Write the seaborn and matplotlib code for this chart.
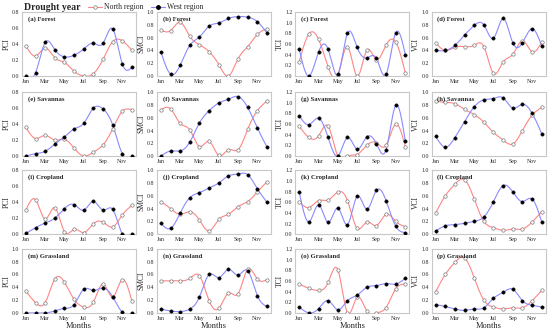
import numpy as np
import pandas as pd
import matplotlib
matplotlib.use("Agg")
import matplotlib.pyplot as plt
import seaborn as sns
from matplotlib.lines import Line2D

sns.set_theme(style="white")
plt.rcParams['font.family'] = ['Liberation Serif', 'DejaVu Serif']

months = list(range(1, 13))
tick_pos = [1, 3, 5, 7, 9, 11]
tick_labels = ["Jan", "Mar", "May", "Jul", "Sep", "Nov"]

panel_titles = ["(a) Forest", "(b) Forest", "(c) Forest", "(d) Forest",
                "(e) Savannas", "(f) Savannas", "(g) Savannas", "(h) Savannas",
                "(i) Cropland", "(j) Cropland", "(k) Cropland", "(l) Cropland",
                "(m) Grassland", "(n) Grassland", "(o) Grassland", "(p) Grassland"]
ylabels = ["PCI", "SMCI", "TCI", "VCI"]

north_a = [0.38, 0.25, 0.35, 0.23, 0.17, 0.06, 0.00, 0.03, 0.21, 0.43, 0.44, 0.32]
west_a = [0.00, 0.04, 0.42, 0.33, 0.24, 0.26, 0.34, 0.41, 0.41, 0.59, 0.15, 0.11]
north_b = [0.72, 0.71, 0.84, 0.62, 0.49, 0.38, 0.18, 0.00, 0.27, 0.46, 0.65, 0.74]
west_b = [0.38, 0.03, 0.17, 0.48, 0.61, 0.78, 0.83, 0.90, 0.93, 0.92, 0.85, 0.67]
north_c = [0.27, 0.79, 0.69, 0.17, 0.02, 0.55, 0.00, 0.48, 0.31, 0.58, 0.64, 0.06]
west_c = [0.50, 0.00, 0.45, 0.50, 0.03, 0.80, 0.54, 0.34, 0.33, 0.03, 0.81, 0.40]
north_d = [0.52, 0.40, 0.45, 0.46, 0.48, 0.46, 0.04, 0.22, 0.34, 0.55, 0.38, 0.53]
west_d = [0.40, 0.40, 0.48, 0.64, 0.79, 0.80, 0.59, 0.90, 0.52, 0.52, 0.74, 0.47]

north_e = [0.36, 0.22, 0.26, 0.20, 0.21, 0.10, 0.00, 0.05, 0.14, 0.34, 0.56, 0.58]
west_e = [0.00, 0.03, 0.06, 0.15, 0.24, 0.34, 0.41, 0.60, 0.59, 0.39, 0.03, 0.00]
north_f = [0.72, 0.74, 0.51, 0.41, 0.15, 0.23, 0.01, 0.10, 0.10, 0.42, 0.71, 0.86]
west_f = [0.00, 0.08, 0.08, 0.22, 0.52, 0.71, 0.83, 0.89, 0.93, 0.76, 0.44, 0.14]
north_g = [0.56, 0.35, 0.38, 0.56, 0.00, 0.00, 0.03, 0.20, 0.25, 0.20, 0.60, 0.18]
west_g = [0.76, 0.59, 0.71, 0.35, 0.00, 0.35, 0.13, 0.36, 0.23, 0.12, 0.95, 0.28]
north_h = [0.86, 0.84, 0.82, 0.73, 0.65, 0.53, 0.37, 0.25, 0.19, 0.40, 0.64, 0.76]
west_h = [0.31, 0.14, 0.29, 0.54, 0.77, 0.88, 0.90, 0.91, 0.75, 0.81, 0.67, 0.35]

north_i = [0.30, 0.43, 0.19, 0.33, 0.03, 0.06, 0.02, 0.13, 0.15, 0.09, 0.24, 0.36]
west_i = [0.01, 0.08, 0.14, 0.20, 0.32, 0.37, 0.30, 0.41, 0.30, 0.31, 0.00, 0.00]
north_j = [0.51, 0.40, 0.31, 0.35, 0.22, 0.05, 0.23, 0.31, 0.43, 0.51, 0.66, 0.82]
west_j = [0.17, 0.09, 0.33, 0.57, 0.65, 0.72, 0.80, 0.91, 0.94, 0.93, 0.71, 0.50]
north_k = [0.61, 0.50, 0.63, 0.64, 0.79, 0.63, 0.11, 0.23, 0.16, 0.37, 0.24, 0.14]
west_k = [0.79, 0.23, 0.55, 0.22, 0.49, 0.18, 0.71, 0.47, 0.82, 0.63, 0.15, 0.03]
north_l = [0.33, 0.60, 0.78, 0.85, 0.55, 0.20, 0.10, 0.06, 0.08, 0.08, 0.19, 0.35]
west_l = [0.05, 0.13, 0.15, 0.17, 0.20, 0.27, 0.51, 0.76, 0.66, 0.51, 0.55, 0.19]

north_m = [0.34, 0.16, 0.16, 0.53, 0.48, 0.21, 0.09, 0.17, 0.45, 0.25, 0.52, 0.18]
west_m = [0.00, 0.00, 0.00, 0.03, 0.07, 0.13, 0.37, 0.35, 0.39, 0.25, 0.01, 0.00]
north_n = [0.50, 0.50, 0.50, 0.54, 0.58, 0.19, 0.07, 0.31, 0.30, 0.68, 0.53, 0.52]
west_n = [0.06, 0.03, 0.02, 0.06, 0.25, 0.60, 0.55, 0.68, 0.59, 0.66, 0.27, 0.10]
north_o = [0.54, 0.46, 0.42, 0.57, 0.81, 0.00, 0.29, 0.04, 0.00, 0.10, 0.45, 0.54]
west_o = [0.11, 0.00, 0.08, 0.23, 0.06, 0.23, 0.33, 0.48, 0.51, 0.55, 0.54, 0.65]
north_p = [0.33, 0.60, 0.79, 0.86, 0.55, 0.20, 0.09, 0.06, 0.08, 0.08, 0.19, 0.35]
west_p = [0.13, 0.10, 0.06, 0.04, 0.06, 0.08, 0.23, 0.32, 0.37, 0.19, 0.12, 0.09]

north_all = [north_a, north_b, north_c, north_d, north_e, north_f, north_g, north_h,
             north_i, north_j, north_k, north_l, north_m, north_n, north_o, north_p]
west_all = [west_a, west_b, west_c, west_d, west_e, west_f, west_g, west_h,
            west_i, west_j, west_k, west_l, west_m, west_n, west_o, west_p]

ymax_all = [0.8, 1.0, 1.2, 1.0,
            0.8, 1.0, 1.2, 1.0,
            0.8, 1.0, 1.2, 1.0,
            1.0, 1.0, 1.2, 1.0]


def natural_spline(x, y, n=200):
    x = np.asarray(x, float)
    y = np.asarray(y, float)
    k = len(x)
    h = np.diff(x)
    A = np.zeros((k, k))
    b = np.zeros(k)
    A[0, 0] = 1
    A[-1, -1] = 1
    for i in range(1, k - 1):
        A[i, i - 1] = h[i - 1]
        A[i, i] = 2 * (h[i - 1] + h[i])
        A[i, i + 1] = h[i]
        b[i] = 3 * ((y[i + 1] - y[i]) / h[i] - (y[i] - y[i - 1]) / h[i - 1])
    c = np.linalg.solve(A, b)
    bb = np.zeros(k - 1)
    d = np.zeros(k - 1)
    for i in range(k - 1):
        bb[i] = (y[i + 1] - y[i]) / h[i] - h[i] * (2 * c[i] + c[i + 1]) / 3
        d[i] = (c[i + 1] - c[i]) / (3 * h[i])
    xs = np.linspace(x[0], x[-1], n)
    idx = np.clip(np.searchsorted(x, xs) - 1, 0, k - 2)
    dx = xs - x[idx]
    ys = y[idx] + bb[idx] * dx + c[idx] * dx ** 2 + d[idx] * dx ** 3
    return xs, ys


red = "#ff8585"
blue = "#8a8aff"

fig = plt.figure(figsize=(5.5, 3.35), dpi=100)
lefts = [0.040, 0.2855, 0.537, 0.785]
bottoms = [0.773, 0.534, 0.301, 0.066]
w, hgt = 0.207, 0.191

for r in range(4):
    for cidx in range(4):
        i = r * 4 + cidx
        ax = fig.add_axes([lefts[cidx], bottoms[r], w, hgt])
        xs, ysn = natural_spline(months, north_all[i])
        _, ysw = natural_spline(months, west_all[i])
        sns.lineplot(x=xs, y=ysn, ax=ax, color=red, lw=0.8, zorder=2)
        sns.lineplot(x=xs, y=ysw, ax=ax, color=blue, lw=0.8, zorder=2)
        sns.scatterplot(x=months, y=north_all[i], ax=ax, marker='o', s=6,
                        facecolor='white', edgecolor='#7a7a7a', linewidth=0.5, zorder=3)
        sns.scatterplot(x=months, y=west_all[i], ax=ax, marker='o', s=6,
                        color='black', edgecolor='black', linewidth=0.3, zorder=4)
        ymax = ymax_all[i]
        ax.set_ylim(0, ymax)
        ax.set_xlim(0.6, 12.4)
        ax.set_yticks(np.round(np.arange(0, ymax + 0.01, 0.2), 1))
        ax.set_yticklabels([f"{v:.1f}" for v in np.arange(0, ymax + 0.01, 0.2)])
        ax.set_xticks(tick_pos)
        ax.set_xticklabels(tick_labels)
        ax.tick_params(axis='both', labelsize=4.2, length=0, pad=2)
        for s in ax.spines.values():
            s.set_color('#c8c8c8')
            s.set_linewidth(0.8)
        ax.text(0.05, 0.93, panel_titles[i], transform=ax.transAxes,
                fontsize=4.8, fontweight='bold', va='top', ha='left')
        ax.set_ylabel(ylabels[cidx], fontsize=5.5, labelpad=1)
        if r == 3:
            ax.set_xlabel("Months", fontsize=6, labelpad=1)
        else:
            ax.set_xlabel("")
        if ax.get_legend():
            ax.get_legend().remove()

fig.text(0.043, 0.978, "Drought year", fontsize=7, fontweight='bold', va='center', ha='left')
handles = [Line2D([0], [0], color=red, lw=0.8, marker='o', markersize=2.5,
                  markerfacecolor='white', markeredgecolor='#7a7a7a', markeredgewidth=0.5),
           Line2D([0], [0], color=blue, lw=0.8, marker='o', markersize=2.5,
                  markerfacecolor='black', markeredgecolor='black')]
fig.legend(handles, ["North region", "West region"], loc='center left',
           bbox_to_anchor=(0.153, 0.978), ncol=2, frameon=False, fontsize=5.5,
           handlelength=1.8, handletextpad=0.3, columnspacing=1.0, borderpad=0)

fig.savefig("out.png", dpi=100)
